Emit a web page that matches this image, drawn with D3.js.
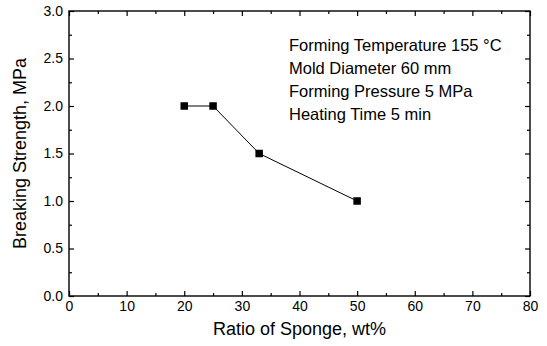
<!DOCTYPE html>
<html>
<head>
<meta charset="utf-8">
<script src="https://cdn.jsdelivr.net/npm/d3@7"></script>
<style>
  html, body { margin: 0; padding: 0; background: #fff; }
  svg { display: block; font-family: "Liberation Sans", Arial, sans-serif; }
</style>
</head>
<body>
<svg id="chart" width="547" height="346"></svg>
<script>
// Breaking strength versus sponge content
const spongeRatio = [20, 25, 33, 50];
const breakingStrength = [2.0, 2.0, 1.5, 1.0];
const xTicks = [0, 10, 20, 30, 40, 50, 60, 70, 80];
const yTicks = [0.0, 0.5, 1.0, 1.5, 2.0, 2.5, 3.0];
const conditions = [
  "Forming Temperature 155 \u00B0C",
  "Mold Diameter 60 mm",
  "Forming Pressure 5 MPa",
  "Heating Time 5 min"
];

const margin = { left: 69, top: 11, right: 17, bottom: 50 };
const W = 547, H = 346;
const iw = W - margin.left - margin.right;
const ih = H - margin.top - margin.bottom;

const svg = d3.select("#chart");
const g = svg.append("g").attr("transform", `translate(${margin.left},${margin.top})`);

const x = d3.scaleLinear().domain([0, 80]).range([0, iw]);
const y = d3.scaleLinear().domain([0, 3]).range([ih, 0]);

const xMinor = d3.range(5, 80, 10);
const yMinor = d3.range(0.25, 3, 0.5);

function styleAxis(sel) {
  sel.select(".domain").remove();
  sel.selectAll("line").attr("stroke", "#000").attr("stroke-width", 1.2);
  sel.selectAll("text").attr("fill", "#000").attr("font-size", 14);
}

// bottom axis with labels, inward ticks
g.append("g").attr("transform", `translate(0,${ih})`)
  .call(d3.axisBottom(x).tickValues(xTicks).tickSize(-5).tickPadding(5).tickFormat(d3.format("d")))
  .call(styleAxis);
g.append("g").attr("transform", `translate(0,${ih})`)
  .call(d3.axisBottom(x).tickValues(xMinor).tickSize(-3).tickFormat(""))
  .call(styleAxis);
// top axis, ticks only
g.append("g")
  .call(d3.axisTop(x).tickValues(xTicks).tickSize(-5).tickFormat(""))
  .call(styleAxis);
g.append("g")
  .call(d3.axisTop(x).tickValues(xMinor).tickSize(-3).tickFormat(""))
  .call(styleAxis);

// left axis with labels
g.append("g")
  .call(d3.axisLeft(y).tickValues(yTicks).tickSize(-5).tickPadding(6).tickFormat(d3.format(".1f")))
  .call(styleAxis);
g.append("g")
  .call(d3.axisLeft(y).tickValues(yMinor).tickSize(-3).tickFormat(""))
  .call(styleAxis);
// right axis, ticks only
g.append("g").attr("transform", `translate(${iw},0)`)
  .call(d3.axisRight(y).tickValues(yTicks).tickSize(-5).tickFormat(""))
  .call(styleAxis);
g.append("g").attr("transform", `translate(${iw},0)`)
  .call(d3.axisRight(y).tickValues(yMinor).tickSize(-3).tickFormat(""))
  .call(styleAxis);

// frame
g.append("rect").attr("width", iw).attr("height", ih)
  .attr("fill", "none").attr("stroke", "#000").attr("stroke-width", 1.4);

// data line and square markers
const pts = spongeRatio.map((v, i) => [v, breakingStrength[i]]);
g.append("path").datum(pts)
  .attr("fill", "none").attr("stroke", "#000").attr("stroke-width", 1)
  .attr("d", d3.line().x(d => x(d[0])).y(d => y(d[1])));
const ms = 7.5;
g.selectAll("rect.pt").data(pts).join("rect").attr("class", "pt")
  .attr("x", d => x(d[0]) - ms / 2).attr("y", d => y(d[1]) - ms / 2)
  .attr("width", ms).attr("height", ms).attr("fill", "#000");

// condition notes
const notes = g.append("text").attr("font-size", 16.5).attr("fill", "#000");
conditions.forEach((t, i) => {
  notes.append("tspan").attr("x", 220).attr("y", 40 + i * 23).text(t);
});

// axis titles
svg.append("text")
  .attr("x", margin.left + iw / 2).attr("y", 335)
  .attr("text-anchor", "middle").attr("font-size", 18).attr("fill", "#000")
  .text("Ratio of Sponge, wt%");
svg.append("text")
  .attr("transform", `translate(26,${margin.top + ih / 2}) rotate(-90)`)
  .attr("text-anchor", "middle").attr("font-size", 18).attr("fill", "#000")
  .text("Breaking Strength, MPa");
</script>
</body>
</html>
